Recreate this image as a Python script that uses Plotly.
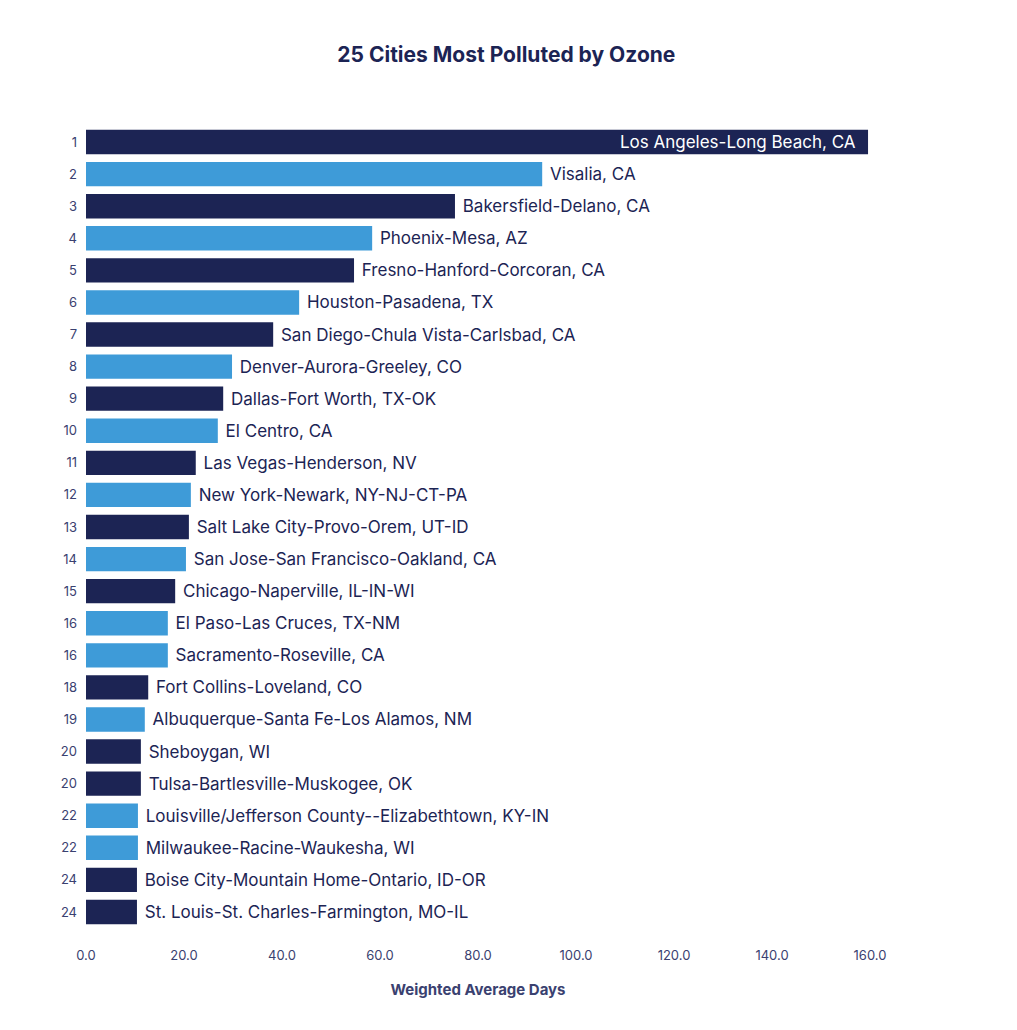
import plotly.graph_objects as go

ranks = ["1", "2", "3", "4", "5", "6", "7", "8", "9", "10", "11", "12", "13",
         "14", "15", "16", "16", "18", "19", "20", "20", "22", "22", "24", "24"]
cities = ["Los Angeles-Long Beach, CA", "Visalia, CA", "Bakersfield-Delano, CA",
          "Phoenix-Mesa, AZ", "Fresno-Hanford-Corcoran, CA", "Houston-Pasadena, TX",
          "San Diego-Chula Vista-Carlsbad, CA", "Denver-Aurora-Greeley, CO",
          "Dallas-Fort Worth, TX-OK", "El Centro, CA", "Las Vegas-Henderson, NV",
          "New York-Newark, NY-NJ-CT-PA", "Salt Lake City-Provo-Orem, UT-ID",
          "San Jose-San Francisco-Oakland, CA", "Chicago-Naperville, IL-IN-WI",
          "El Paso-Las Cruces, TX-NM", "Sacramento-Roseville, CA",
          "Fort Collins-Loveland, CO", "Albuquerque-Santa Fe-Los Alamos, NM",
          "Sheboygan, WI", "Tulsa-Bartlesville-Muskogee, OK",
          "Louisville/Jefferson County--Elizabethtown, KY-IN",
          "Milwaukee-Racine-Waukesha, WI", "Boise City-Mountain Home-Ontario, ID-OR",
          "St. Louis-St. Charles-Farmington, MO-IL"]
days = [159.6, 93.1, 75.3, 58.4, 54.7, 43.5, 38.2, 29.8, 28.0, 26.9, 22.4, 21.4,
        21.0, 20.4, 18.2, 16.7, 16.7, 12.7, 12.0, 11.2, 11.2, 10.6, 10.6, 10.4, 10.4]
shade = ["dark", "light", "dark", "light", "dark", "light", "dark", "light", "dark",
         "light", "dark", "light", "dark", "light", "dark", "light", "light", "dark",
         "light", "dark", "dark", "light", "light", "dark", "dark"]

NAVY = "#1c2454"
BLUE = "#3e9bd8"
colors = [NAVY if s == "dark" else BLUE for s in shade]
positions = ["inside" if d > 150 else "outside" for d in days]
text_colors = ["white" if p == "inside" else "#1c2454" for p in positions]

idx = list(range(len(ranks)))

fig = go.Figure(go.Bar(
    x=days, y=idx, orientation="h",
    marker=dict(color=colors, line_width=0),
    text=[" " + c + "  " if p == "inside" else " " + c for c, p in zip(cities, positions)],
    textposition=positions, insidetextanchor="end",
    textfont=dict(color=text_colors, size=17, family="Inter"),
    insidetextfont=dict(color="white", size=17, family="Inter"),
    constraintext="none",
    cliponaxis=False, width=0.76,
))

fig.update_layout(
    width=1017, height=1030,
    margin=dict(l=78, r=155, t=118, b=110),
    plot_bgcolor="white", paper_bgcolor="white",
    showlegend=False,
    title=dict(text="<b>25 Cities Most Polluted by Ozone</b>", x=0.49, xanchor="center",
               y=0.962, font=dict(size=21, color=NAVY, family="Inter")),
    font=dict(family="Inter", color=NAVY),
)
fig.update_xaxes(range=[0, 160], dtick=20, tickformat=".1f", showgrid=False,
                 zeroline=False, showline=False, ticks="", automargin=False,
                 ticklabelstandoff=18,
                 tickfont=dict(size=13, color="#3a4170"),
                 title=dict(text="<b>Weighted Average Days</b>", standoff=22,
                            font=dict(size=15, color="#3a4170")))
fig.update_yaxes(autorange="reversed", tickmode="array", tickvals=idx, ticktext=ranks,
                 showgrid=False, zeroline=False, ticks="", ticklabelstandoff=8,
                 automargin=False, tickfont=dict(size=13, color="#3a4170"))

fig.write_html("out.html")
